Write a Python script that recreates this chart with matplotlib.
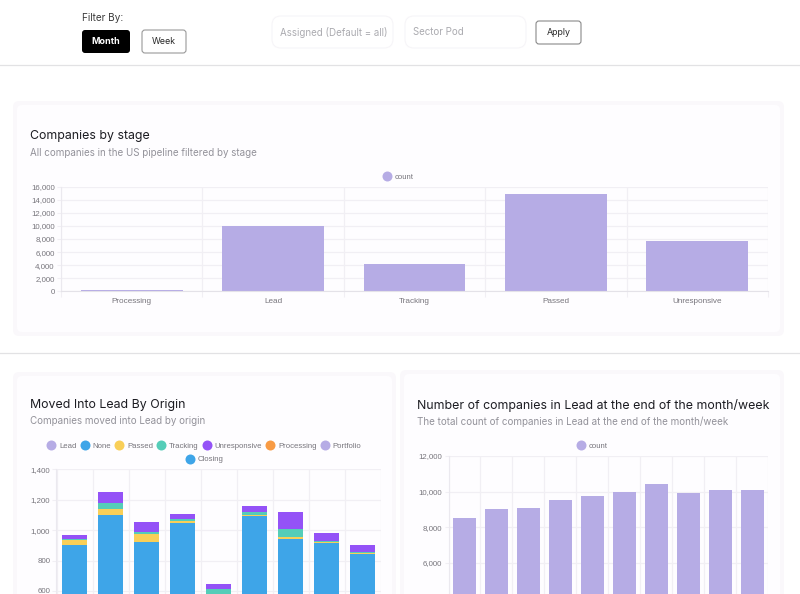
import matplotlib
matplotlib.use("Agg")
import matplotlib.pyplot as plt
from matplotlib.patches import FancyBboxPatch
from matplotlib.lines import Line2D
from matplotlib.ticker import FuncFormatter
import numpy as np

# ---- data ----
stage_labels = ["Processing", "Lead", "Tracking", "Passed", "Unresponsive"]
stage_counts = [150, 10000, 4200, 14900, 7700]
stage_ticks = [0, 2000, 4000, 6000, 8000, 10000, 12000, 14000, 16000]

origin_names = ["Lead", "None", "Passed", "Tracking", "Unresponsive", "Processing", "Portfolio", "Closing"]
origin_colors = ["#B6ACE5", "#3EA5E8", "#F9CF58", "#55CDB8", "#9452F7", "#F89B44", "#B6ACE5", "#3EA5E8"]
origin_lead = [0, 0, 0, 0, 0, 0, 0, 0, 0]
origin_none = [905, 1100, 920, 1045, 570, 1090, 940, 915, 840]
origin_passed = [30, 40, 55, 15, 10, 10, 12, 10, 10]
origin_tracking = [5, 38, 13, 12, 32, 18, 53, 3, 5]
origin_unresponsive = [30, 72, 64, 35, 33, 42, 115, 54, 45]
origin_processing = [0, 0, 0, 0, 0, 0, 0, 0, 0]
origin_portfolio = [0, 0, 0, 0, 0, 0, 0, 0, 0]
origin_closing = [0, 0, 0, 0, 0, 0, 0, 0, 0]
origin_series = [origin_lead, origin_none, origin_passed, origin_tracking,
                 origin_unresponsive, origin_processing, origin_portfolio, origin_closing]
origin_ticks = [600, 800, 1000, 1200, 1400]

lead_counts = [8550, 9030, 9085, 9515, 9760, 10000, 10410, 9910, 10075, 10075]
lead_ticks = [6000, 8000, 10000, 12000]

W, H = 800, 594
UI = "Inter"
TICK = "Liberation Sans"
GRID = "#F1EFF4"
TICKC = "#77757C"

fig = plt.figure(figsize=(W / 100, H / 100), dpi=100, facecolor="white")

ov = fig.add_axes([0, 0, 1, 1], zorder=0)
ov.set_xlim(0, W)
ov.set_ylim(H, 0)
ov.axis("off")


def box(l, t, r, b, fc, ec="none", rad=4, lw=0.8, z=1):
    ov.add_patch(FancyBboxPatch((l + rad, t + rad), r - l - 2 * rad, b - t - 2 * rad,
                                boxstyle=f"round,pad={rad},rounding_size={rad}",
                                fc=fc, ec=ec, lw=lw, zorder=z))


def card(l, t, r, b):
    box(l - 4, t - 4, r + 4, b + 4, "#FAF8FB", rad=6, z=1)
    box(l, t, r, b, "#FEFDFF", rad=5, z=2)


# header
ov.plot([0, W], [64.5, 64.5], color="#E2E2E4", lw=0.9, zorder=1)
ov.plot([0, W], [353, 353], color="#E2E2E4", lw=0.9, zorder=1)
ov.text(82, 18, "Filter By:", family=UI, fontsize=7.2, color="#3C3C3C", va="center", zorder=3)
box(82, 30, 130, 53, "#000000", rad=3, z=3)
ov.text(106, 41.5, "Month", family=UI, fontsize=6.5, fontweight="bold", color="white", ha="center", va="center", zorder=4)
box(142, 30, 186, 53, "white", ec="#9A9A9A", rad=3, z=3)
ov.text(164, 41.5, "Week", family=UI, fontsize=6.4, color="#2A2A2A", ha="center", va="center", zorder=4)
box(272, 16, 393, 48, "white", ec="#F6F5F8", rad=9, z=3)
ov.text(280, 32, "Assigned (Default = all)", family=UI, fontsize=7.0, color="#ABABB0", va="center", zorder=4)
box(405, 16, 526, 48, "white", ec="#F6F5F8", rad=9, z=3)
ov.text(413, 32, "Sector Pod", family=UI, fontsize=7.0, color="#ABABB0", va="center", zorder=4)
box(536, 21, 581, 44, "white", ec="#8A8A8A", rad=3, z=3)
ov.text(558.5, 32.5, "Apply", family=UI, fontsize=6.4, color="#2A2A2A", ha="center", va="center", zorder=4)

# cards
card(17, 105, 780, 332)
card(17, 376, 392, 640)
card(404, 374, 780, 640)


def titles(x, y, title, sub):
    ov.text(x, y, title, family=UI, fontsize=8.9, color="#1C1C22", va="center", zorder=5)
    ov.text(x, y + 16.5, sub, family=UI, fontsize=7.05, color="#93929A", va="center", zorder=5)


titles(30, 136, "Companies by stage", "All companies in the US pipeline filtered by stage")
titles(30, 405, "Moved Into Lead By Origin", "Companies moved into Lead by origin")
titles(417, 405, "Number of companies in Lead at the end of the month/week",
       "The total count of companies in Lead at the end of the month/week")


def axpx(l, r, top, bottom, ymax, ticks):
    ax = fig.add_axes([l / W, 1 - bottom / H, (r - l) / W, (bottom - top) / H], zorder=2)
    ax.patch.set_alpha(0)
    ax.set_yticks(ticks)
    ax.set_ylim(0, ymax)
    ax.yaxis.set_major_formatter(FuncFormatter(lambda v, _: f"{int(v):,}"))
    ax.grid(True, color=GRID, lw=0.9)
    ax.set_axisbelow(True)
    for s in ax.spines.values():
        s.set_visible(False)
    ax.spines["left"].set_visible(True)
    ax.spines["left"].set_color("#EBE9EF")
    ax.spines["bottom"].set_visible(True)
    ax.spines["bottom"].set_color("#E4E2E8")
    ax.tick_params(axis="y", length=3, color=GRID, pad=1.5, labelsize=5.7, labelcolor=TICKC)
    ax.tick_params(axis="x", length=4, color=GRID, pad=3, labelsize=5.9, labelcolor=TICKC)
    for t in ax.get_yticklabels():
        t.set_family(TICK)
    return ax


def setcats(ax, n, labels=None):
    ax.set_xlim(-0.5, n - 0.5)
    ax.set_xticks(np.arange(n + 1) - 0.5)
    ax.set_xticklabels([])
    ax.tick_params(axis="x", which="minor", length=0, pad=5, labelsize=5.9, labelcolor=TICKC)
    if labels:
        ax.set_xticks(np.arange(n), minor=True)
        ax.set_xticklabels(labels, minor=True, family=TICK)


def legend(ax, names, colors, xc, yc, ncol):
    hs = [Line2D([], [], ls="none", marker="o", ms=7.2, mfc=c, mec="none", label=n)
          for n, c in zip(names, colors)]
    lg = ax.legend(handles=hs, loc="center", bbox_to_anchor=(xc, yc), bbox_transform=ov.transData,
                   ncol=ncol, frameon=False, prop={"family": TICK, "size": 5.6},
                   labelcolor=TICKC, handletextpad=0.4, columnspacing=0.4, borderpad=0, handlelength=1.25)
    ax.legend_ = None
    ax.add_artist(lg)


# chart 1
ax1 = axpx(61, 768, 186.7, 291.3, 16000, stage_ticks)
setcats(ax1, len(stage_labels), stage_labels)
ax1.bar(range(len(stage_counts)), stage_counts, width=0.72, color="#B6ACE5", label="count")
legend(ax1, ["count"], ["#B6ACE5"], 398, 177, 1)

# chart 2: stacked
ax2 = axpx(56.5, 380.5, 469.3, 682.2, 1400, origin_ticks)
setcats(ax2, len(origin_none))
bottom = np.zeros(len(origin_none))
for name, col, vals in zip(origin_names, origin_colors, origin_series):
    ax2.bar(range(len(vals)), vals, bottom=bottom, width=0.71, color=col, label=name)
    bottom = bottom + np.array(vals)
legend(ax2, origin_names[:7], origin_colors[:7], 204, 446, 7)
legend(ax2, origin_names[7:], origin_colors[7:], 204, 459.5, 1)

# chart 3
ax3 = axpx(448.5, 768, 456, 670, 12000, lead_ticks)
setcats(ax3, len(lead_counts))
ax3.bar(range(len(lead_counts)), lead_counts, width=0.72, color="#B6ACE5", label="count")
legend(ax3, ["count"], ["#B6ACE5"], 592, 446, 1)

fig.savefig("out.png", dpi=100, facecolor="white")
